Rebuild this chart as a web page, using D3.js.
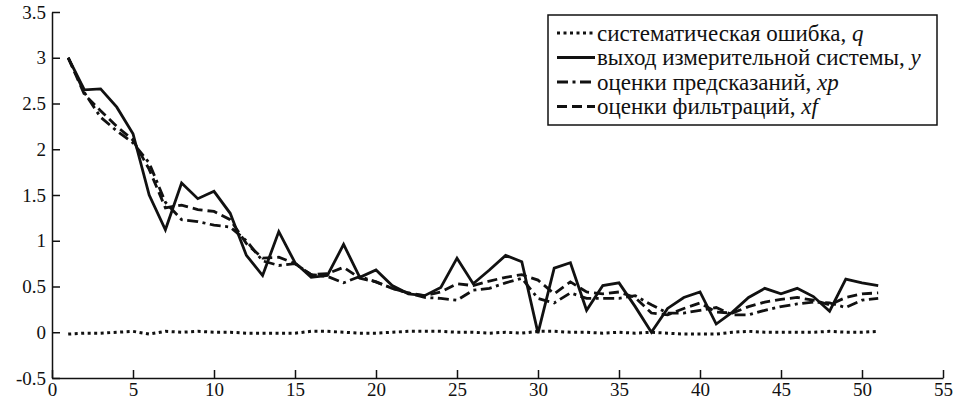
<!DOCTYPE html>
<html>
<head>
<meta charset="utf-8">
<script src="https://cdn.jsdelivr.net/npm/d3@7"></script>
<style>
  body { margin: 0; background: #fff; }
  svg { display: block; }
  .axis path, .axis line { stroke: #111; stroke-width: 1.5; }
</style>
</head>
<body>
<script>
// step index k = 1..51
var steps = d3.range(1, 52);

// systematic error q
var q = [-0.02, -0.01, -0.01, 0.00, 0.01, -0.02, 0.01, 0.00, 0.01, 0.00,
          0.00, -0.01, -0.01, -0.01, -0.01, 0.01, 0.01, 0.00, -0.01, -0.01,
          0.00, 0.01, 0.01, 0.01, 0.00, 0.00, -0.01, 0.00, -0.01, 0.01,
          0.01, 0.00, 0.00, -0.01, 0.00, -0.01, 0.00, -0.01, -0.02, -0.02,
         -0.02, 0.00, 0.01, 0.00, 0.00, 0.00, 0.00, 0.01, 0.00, 0.00, 0.01];

// measurement system output y
var y = [3.00, 2.65, 2.66, 2.46, 2.17, 1.50, 1.12, 1.63, 1.46, 1.54,
         1.30, 0.84, 0.62, 1.10, 0.76, 0.60, 0.62, 0.96, 0.60, 0.68,
         0.51, 0.42, 0.40, 0.49, 0.81, 0.53, 0.68, 0.84, 0.77, -0.01,
         0.70, 0.76, 0.24, 0.51, 0.54, 0.28, 0.00, 0.26, 0.38, 0.44,
         0.09, 0.22, 0.38, 0.48, 0.42, 0.48, 0.39, 0.23, 0.58, 0.54, 0.51];

// prediction estimates xp
var xp = [3.00, 2.62, 2.35, 2.20, 2.07, 1.85, 1.42, 1.23, 1.21, 1.17,
          1.15, 1.00, 0.78, 0.73, 0.75, 0.63, 0.61, 0.54, 0.61, 0.55,
          0.48, 0.43, 0.38, 0.37, 0.35, 0.46, 0.48, 0.54, 0.59, 0.37,
          0.32, 0.43, 0.37, 0.37, 0.37, 0.40, 0.30, 0.21, 0.21, 0.24,
          0.27, 0.19, 0.19, 0.24, 0.28, 0.31, 0.33, 0.32, 0.27, 0.35, 0.37];

// filtering estimates xf
var xf = [3.00, 2.60, 2.42, 2.25, 2.10, 1.78, 1.36, 1.39, 1.34, 1.32,
          1.23, 0.97, 0.81, 0.82, 0.75, 0.63, 0.64, 0.71, 0.59, 0.55,
          0.48, 0.43, 0.40, 0.44, 0.53, 0.51, 0.56, 0.60, 0.63, 0.57,
          0.42, 0.55, 0.44, 0.42, 0.44, 0.38, 0.21, 0.19, 0.26, 0.32,
          0.22, 0.21, 0.28, 0.33, 0.36, 0.38, 0.35, 0.30, 0.38, 0.42, 0.43];

var xTicks = d3.range(0, 56, 5);
var yTicks = [-0.5, 0, 0.5, 1, 1.5, 2, 2.5, 3, 3.5];

var legendNames = ["систематическая ошибка, ", "выход измерительной системы, ", "оценки предсказаний, ", "оценки фильтраций, "];
var legendVars = ["q", "y", "xp", "xf"];

var width = 957, height = 405;
var serif = "'Liberation Serif', 'DejaVu Serif', serif";

var xScale = d3.scaleLinear().domain([0, 55]).range([52, 943]);
var yScale = d3.scaleLinear().domain([-0.5, 3.5]).range([378, 12]);

var svg = d3.select("body").append("svg")
    .attr("width", width)
    .attr("height", height);

svg.append("rect").attr("width", width).attr("height", height).attr("fill", "#fff");

var series = [
    {values: q,  dash: "3,3.5", w: 3},
    {values: y,  dash: null, w: 2.8},
    {values: xp, dash: "11,4.5,3,4.5", w: 2.8},
    {values: xf, dash: "10,5", w: 2.8}
];

var line = d3.line()
    .x(function(d, i) { return xScale(steps[i]); })
    .y(function(d) { return yScale(d); });

svg.selectAll("path.series")
    .data(series)
    .enter().append("path")
    .attr("class", "series")
    .attr("d", function(s) { return line(s.values); })
    .attr("fill", "none")
    .attr("stroke", "#111")
    .attr("stroke-width", function(s) { return s.w; })
    .attr("stroke-linejoin", "miter")
    .attr("stroke-dasharray", function(s) { return s.dash; });

// axes, ticks pointing inward
var xAxis = d3.axisBottom(xScale)
    .tickValues(xTicks)
    .tickSizeInner(-8)
    .tickSizeOuter(0)
    .tickPadding(5)
    .tickFormat(function(d) { return String(d); });

var yAxis = d3.axisLeft(yScale)
    .tickValues(yTicks)
    .tickSizeInner(-8)
    .tickSizeOuter(0)
    .tickPadding(6)
    .tickFormat(function(d) { return String(d); });

svg.append("g")
    .attr("class", "axis")
    .attr("transform", "translate(0," + yScale(-0.5) + ")")
    .call(xAxis)
    .attr("font-family", serif)
    .attr("font-size", 19);

svg.append("g")
    .attr("class", "axis")
    .attr("transform", "translate(" + xScale(0) + ",0)")
    .call(yAxis)
    .attr("font-family", serif)
    .attr("font-size", 19);

svg.selectAll(".axis text").attr("fill", "#111");

// legend
var legend = svg.append("g")
    .attr("font-family", serif)
    .attr("font-size", 23)
    .attr("fill", "#111");

legend.append("rect")
    .attr("x", 548).attr("y", 15)
    .attr("width", 389).attr("height", 110)
    .attr("fill", "#fff")
    .attr("stroke", "#111")
    .attr("stroke-width", 1.5);

var rows = legend.selectAll("g.row")
    .data(series)
    .enter().append("g")
    .attr("class", "row")
    .attr("transform", function(d, i) { return "translate(0," + (33 + i * 24.5) + ")"; });

rows.append("line")
    .attr("x1", 557).attr("x2", 595)
    .attr("stroke", "#111")
    .attr("stroke-width", function(s) { return s.w; })
    .attr("stroke-dasharray", function(s) { return s.dash; });

var labels = rows.append("text")
    .attr("x", 597)
    .attr("dy", "0.33em");

labels.append("tspan").text(function(d, i) { return legendNames[i]; });
labels.append("tspan")
    .attr("font-style", "italic")
    .text(function(d, i) { return legendVars[i]; });
</script>
</body>
</html>
